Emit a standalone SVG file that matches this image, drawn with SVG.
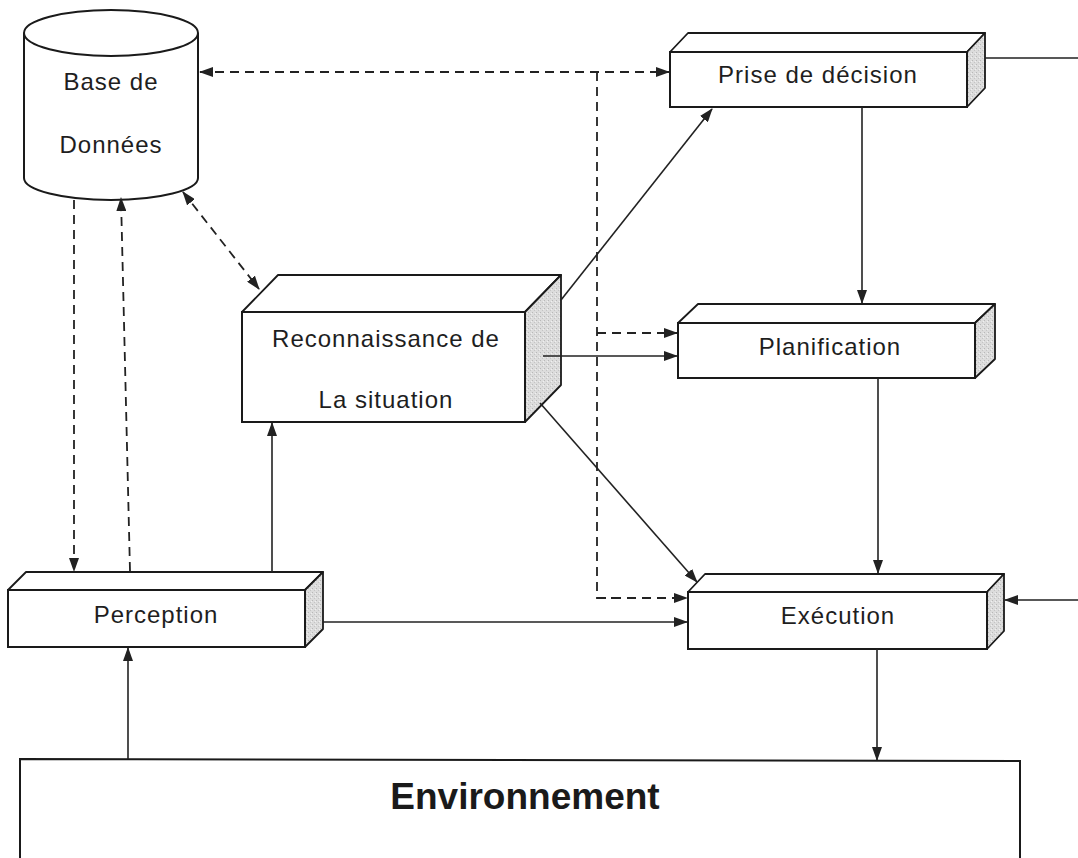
<svg xmlns="http://www.w3.org/2000/svg" width="1078" height="858" viewBox="0 0 1078 858">
  <defs>
    <marker id="arrow" viewBox="0 0 14 10" refX="13" refY="5" markerWidth="14" markerHeight="10" markerUnits="userSpaceOnUse" orient="auto-start-reverse">
      <path d="M0,0 L14,5 L0,10 z" fill="#222"/>
    </marker>
    <pattern id="grain" width="4" height="4" patternUnits="userSpaceOnUse">
      <rect width="4" height="4" fill="#dcdcdc"/>
      <rect x="0" y="0" width="1" height="1" fill="#b8b8b8"/>
      <rect x="2" y="2" width="1" height="1" fill="#c4c4c4"/>
      <rect x="3" y="1" width="1" height="1" fill="#f0f0f0"/>
    </pattern>
    <style>
      .front { fill: #fff; stroke: #1a1a1a; stroke-width: 2; }
      .top { fill: #fff; stroke: #1a1a1a; stroke-width: 1.8; stroke-linejoin: round; }
      .side { fill: url(#grain); stroke: #1a1a1a; stroke-width: 1.8; stroke-linejoin: round; }
      .edge { stroke: #777; stroke-width: 2; stroke-dasharray: 2 1; fill: none; }
      .lbl { font-family: "Liberation Sans", Arial, sans-serif; font-size: 24px; letter-spacing: 1px; fill: #1e1e1e; text-anchor: middle; }
      .big { font-family: "Liberation Sans", Arial, sans-serif; font-size: 37px; font-weight: bold; fill: #1a1a1a; text-anchor: middle; }
      .solid { fill: none; stroke: #222; stroke-width: 1.6; }
      .dash { fill: none; stroke: #222; stroke-width: 1.8; stroke-dasharray: 9 6; }
      .arr { marker-end: url(#arrow); }
      .both { marker-start: url(#arrow); marker-end: url(#arrow); }
    </style>
  </defs>
  <rect width="1078" height="858" fill="#fff"/>

  <!-- Database cylinder -->
  <g id="base-donnees">
    <path d="M24,33 L24,178 A87,22 0 0 0 198,178 L198,33" fill="#fff" stroke="#1a1a1a" stroke-width="2"/>
    <ellipse cx="111" cy="33" rx="87" ry="23" fill="#fff" stroke="#1a1a1a" stroke-width="2"/>
    <text class="lbl" x="111" y="90">Base de</text>
    <text class="lbl" x="111" y="153">Données</text>
  </g>

  <!-- Decision block -->
  <g id="prise-decision">
    <polygon class="top" points="670,52 688,33 985,33 967,52"/>
    <polygon class="side" points="967,52 985,33 985,88 967,107"/>
    <rect class="front" x="670" y="52" width="297" height="55"/>
    <text class="lbl" x="818" y="83">Prise de décision</text>
  </g>

  <!-- Situation recognition block -->
  <g id="reconnaissance">
    <polygon class="top" points="242,312 278,275 561,275 525,312"/>
    <polygon class="side" points="525,312 561,275 561,385 525,422"/>
    <rect class="front" x="242" y="312" width="283" height="110"/>
    <text class="lbl" x="386" y="347">Reconnaissance de</text>
    <text class="lbl" x="386" y="408">La situation</text>
  </g>

  <!-- Planning block -->
  <g id="planification">
    <polygon class="top" points="678,323 698,304 995,304 975,323"/>
    <polygon class="side" points="975,323 995,304 995,359 975,378"/>
    <rect class="front" x="678" y="323" width="297" height="55"/>
    <text class="lbl" x="830" y="355">Planification</text>
  </g>

  <!-- Perception block -->
  <g id="perception">
    <polygon class="top" points="8,590 26,572 323,572 305,590"/>
    <polygon class="side" points="305,590 323,572 323,629 305,647"/>
    <rect class="front" x="8" y="590" width="297" height="57"/>
    <text class="lbl" x="156" y="623">Perception</text>
  </g>

  <!-- Execution block -->
  <g id="execution">
    <polygon class="top" points="688,592 705,574 1004,574 987,592"/>
    <polygon class="side" points="987,592 1004,574 1004,631 987,649"/>
    <rect class="front" x="688" y="592" width="299" height="57"/>
    <text class="lbl" x="838" y="624">Exécution</text>
  </g>

  <!-- Environment -->
  <g id="environnement">
    <path d="M20,870 L20,759 L1020,761 L1020,870" fill="#fff" stroke="#1a1a1a" stroke-width="2"/>
    <text class="big" x="525" y="809">Environnement</text>
  </g>

  <g id="connectors">
    <!-- dashed links with the database -->
    <line class="dash both" x1="200" y1="72" x2="669" y2="72"/>
    <line class="dash arr" x1="74" y1="200" x2="74" y2="571"/>
    <line class="dash arr" x1="130" y1="571" x2="121" y2="198"/>
    <line class="dash both" x1="183" y1="192" x2="259" y2="289"/>
    <!-- dashed feed from the decision line to planning and execution -->
    <polyline class="dash" points="597,72 597,598 620,598"/>
    <line class="dash arr" x1="597" y1="598" x2="687" y2="598"/>
    <line class="dash arr" x1="597" y1="333" x2="677" y2="333"/>
    <!-- solid flows -->
    <line class="solid arr" x1="561" y1="300" x2="712" y2="109"/>
    <line class="solid arr" x1="543" y1="356" x2="677" y2="356"/>
    <line class="solid arr" x1="540" y1="403" x2="697" y2="582"/>
    <line class="solid arr" x1="862" y1="107" x2="862" y2="303"/>
    <line class="solid arr" x1="878" y1="378" x2="878" y2="573"/>
    <line class="solid arr" x1="877" y1="649" x2="877" y2="760"/>
    <line class="solid arr" x1="128" y1="759" x2="128" y2="648"/>
    <line class="solid arr" x1="272" y1="572" x2="272" y2="423"/>
    <line class="solid arr" x1="323" y1="622" x2="687" y2="622"/>
    <!-- feedback loop from decision to execution, running along the right border -->
    <path class="solid arr" d="M985,58 L1080,58 L1080,600 L1005,600"/>
  </g>
</svg>
